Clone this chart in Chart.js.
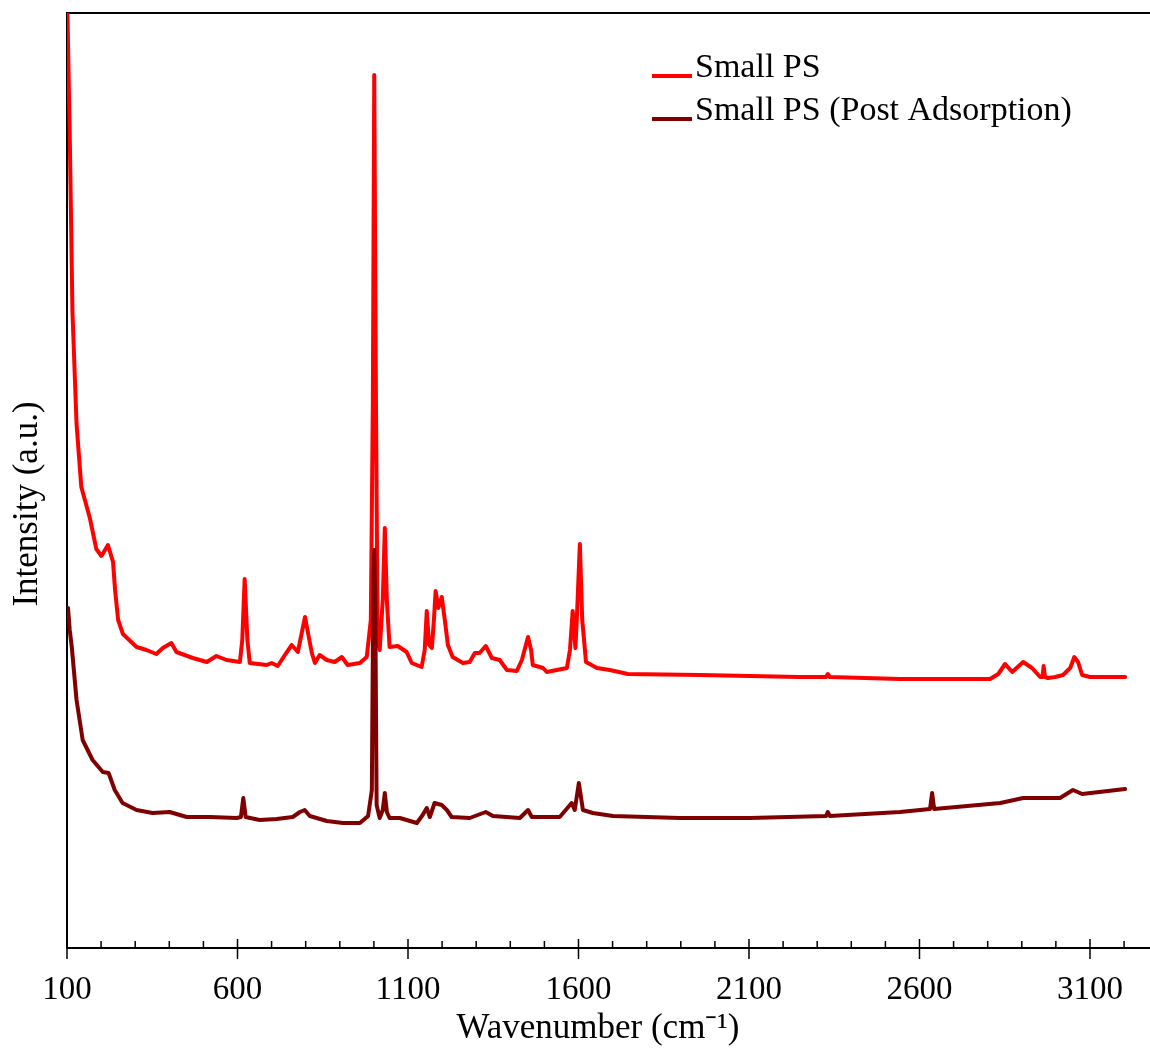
<!DOCTYPE html>
<html>
<head>
<meta charset="utf-8">
<script src="https://cdn.jsdelivr.net/npm/chart.js@4.4.1/dist/chart.umd.min.js"></script>
<style>
  body { margin: 0; background: #fff; }
  #wrap { width: 1150px; height: 1055px; }
</style>
</head>
<body>
<div id="wrap"><canvas id="ramanChart" width="1150" height="1055"></canvas></div>
<script>
// wavenumber (cm-1) and intensity (a.u.)
const smallPsX = [101, 108, 116, 128, 142, 167, 186, 201, 220, 235, 241, 250, 264, 304, 333, 362, 381, 406, 421, 469,
    510, 538, 568, 607, 614, 621, 629, 636, 686, 700, 718, 739, 759, 777, 798, 818, 827, 841, 862, 885,
    906, 923, 959, 979, 991, 997, 1001, 1006, 1011, 1017, 1026, 1032, 1038, 1046, 1070, 1096, 1111, 1140, 1149, 1155,
    1162, 1170, 1176, 1181, 1189, 1199, 1208, 1217, 1231, 1261, 1281, 1296, 1310, 1328, 1346, 1369, 1390, 1419, 1434, 1452,
    1461, 1466, 1496, 1507, 1566, 1575, 1583, 1591, 1595, 1604, 1611, 1622, 1654, 1692, 1745, 1956, 2249, 2326, 2331, 2337,
    2543, 2807, 2831, 2851, 2872, 2904, 2930, 2954, 2961, 2964, 2968, 2977, 2998, 3021, 3042, 3054, 3065, 3077, 3100, 3203];
const smallPsY = [940, 814, 636, 524, 461, 430, 399, 392, 403, 386, 358, 328, 314, 301, 298, 294, 300, 305, 296, 290,
    286, 292, 288, 286, 308, 369, 308, 285, 283, 285, 282, 293, 303, 296, 331, 295, 285, 293, 288, 286,
    291, 283, 285, 291, 328, 548, 873, 548, 308, 298, 348, 420, 348, 301, 302, 296, 285, 281, 298, 337,
    303, 300, 328, 357, 340, 351, 328, 303, 291, 285, 286, 295, 295, 302, 290, 288, 278, 277, 288, 311,
    298, 283, 280, 276, 280, 298, 337, 300, 328, 404, 328, 286, 280, 278, 274, 273, 271, 271, 274, 271,
    269, 269, 274, 284, 276, 286, 280, 271, 271, 282, 271, 270, 271, 273, 280, 291, 286, 273, 271, 271];

const postAdsX = [103, 108, 114, 128, 146, 175, 205, 222, 240, 263, 304, 351, 401, 451, 519, 598, 610, 617, 624, 665,
    715, 762, 783, 797, 812, 862, 909, 959, 983, 994, 998, 1001, 1004, 1008, 1017, 1026, 1032, 1038, 1046, 1076,
    1126, 1143, 1155, 1164, 1178, 1199, 1214, 1228, 1281, 1328, 1349, 1428, 1452, 1463, 1545, 1580, 1589, 1601, 1613, 1642,
    1701, 1897, 2103, 2326, 2331, 2337, 2543, 2631, 2637, 2643, 2837, 2904, 3012, 3050, 3077, 3203];
const postAdsY = [340, 318, 301, 248, 208, 188, 176, 175, 158, 145, 138, 135, 136, 131, 131, 130, 131, 150, 131, 128,
    129, 131, 136, 138, 132, 127, 125, 125, 132, 158, 348, 398, 348, 143, 130, 138, 155, 136, 130, 130,
    125, 133, 140, 131, 145, 143, 138, 131, 130, 136, 132, 130, 138, 131, 131, 145, 138, 165, 138, 135,
    132, 130, 130, 132, 136, 132, 136, 139, 155, 139, 145, 150, 150, 158, 154, 159];

const seriesNames = ["Small PS", "Small PS (Post Adsorption)"];
const seriesColors = ["#ff0000", "#7f0000"];

const toPoints = (xs, ys) => xs.map((x, i) => ({ x: x, y: ys[i] }));

const serif = "'Liberation Serif', 'Times New Roman', serif";

// minor/major tick marks, axis titles and legend box drawn by hand
const extras = {
    id: "extras",
    afterDraw(chart) {
        const ctx = chart.ctx;
        const xs = chart.scales.x;
        const base = chart.chartArea.bottom;
        ctx.save();
        ctx.strokeStyle = "#000";
        ctx.lineWidth = 1.5;
        xs.ticks.forEach((t) => {
            const px = xs.getPixelForValue(t.value);
            const major = (t.value - 100) % 500 === 0;
            ctx.beginPath();
            ctx.moveTo(px, major ? base - 9 : base - 7);
            ctx.lineTo(px, major ? base + 11 : base);
            ctx.stroke();
        });

        // axis titles
        ctx.fillStyle = "#000";
        ctx.font = "35px " + serif;
        ctx.textAlign = "center";
        ctx.textBaseline = "middle";
        ctx.fillText("Wavenumber (cm\u207B\u00B9)", 598, 1029);
        ctx.save();
        ctx.translate(28, 504);
        ctx.rotate(-Math.PI / 2);
        ctx.fillText("Intensity (a.u.)", 0, 0);
        ctx.restore();

        // legend
        ctx.font = "34px " + serif;
        ctx.textAlign = "left";
        ctx.textBaseline = "alphabetic";
        chart.data.datasets.forEach((ds, i) => {
            const y = 76 + i * 43;
            ctx.strokeStyle = ds.borderColor;
            ctx.lineWidth = 4;
            ctx.beginPath();
            ctx.moveTo(652, y);
            ctx.lineTo(692, y);
            ctx.stroke();
            ctx.fillText(ds.label, 695, y + 1);
        });
        ctx.restore();
    },
};

const ctx = document.getElementById("ramanChart").getContext("2d");

new Chart(ctx, {
    type: "line",
    data: {
        datasets: [
            {
                label: seriesNames[0],
                data: toPoints(smallPsX, smallPsY),
                borderColor: seriesColors[0],
                borderWidth: 4,
                borderJoinStyle: "round",
                borderCapStyle: "round",
                pointRadius: 0,
                tension: 0,
                order: 1,
            },
            {
                label: seriesNames[1],
                data: toPoints(postAdsX, postAdsY),
                borderColor: seriesColors[1],
                borderWidth: 4,
                borderJoinStyle: "round",
                borderCapStyle: "round",
                pointRadius: 0,
                tension: 0,
                order: 0,
            },
        ],
    },
    options: {
        responsive: false,
        animation: false,
        layout: { padding: { top: 13, right: 0, left: 0, bottom: 0 } },
        plugins: {
            legend: { display: false },
            tooltip: { enabled: false },
        },
        scales: {
            x: {
                type: "linear",
                min: 100,
                max: 3276,
                afterFit: (s) => { s.height = 107; },
                ticks: {
                    stepSize: 100,
                    includeBounds: false,
                    autoSkip: false,
                    maxRotation: 0,
                    padding: 23,
                    color: "#000",
                    font: { family: serif, size: 33 },
                    callback: (v) => ((v - 100) % 500 === 0 ? String(v) : ""),
                },
                grid: { display: false, drawTicks: false },
                border: { display: true, color: "#000", width: 2 },
            },
            x2: {
                type: "linear",
                position: "top",
                min: 100,
                max: 3276,
                afterFit: (s) => { s.height = 0; },
                ticks: { display: false },
                grid: { display: false, drawTicks: false },
                border: { display: true, color: "#000", width: 2 },
            },
            y: {
                min: 0,
                max: 935,
                afterFit: (s) => { s.width = 67; },
                ticks: { display: false },
                grid: { display: false, drawTicks: false },
                border: { display: true, color: "#000", width: 2 },
            },
        },
    },
    plugins: [extras],
});
</script>
</body>
</html>
